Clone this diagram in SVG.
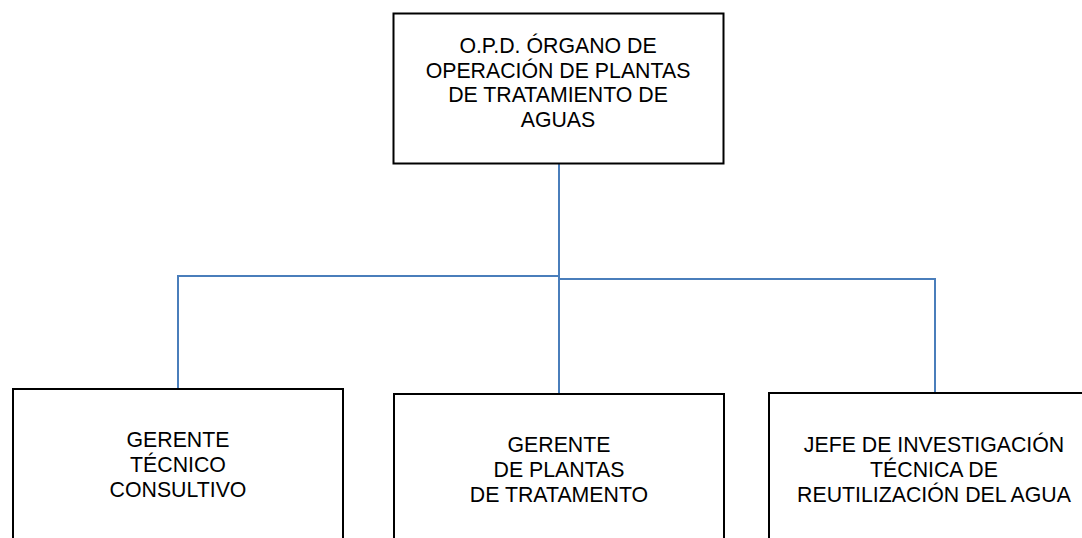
<svg xmlns="http://www.w3.org/2000/svg" width="1082" height="538" viewBox="0 0 1082 538">
<style>
.box{fill:#fff;stroke:#000;stroke-width:2}
.lbl{font-family:"Liberation Sans",Arial,sans-serif;font-size:21.3px;fill:#000;text-anchor:middle}
.conn{fill:none;stroke:#4a7ebb;stroke-width:2}
</style>
<rect width="1082" height="538" fill="#fff"/>
<g id="connectors">
<path class="conn" d="M559,164 V394"/>
<path class="conn" d="M559,276 H178 V389"/>
<path class="conn" d="M559,279 H935 V393"/>
</g>
<g id="n0">
<rect class="box" x="393.5" y="13.5" width="330" height="150"/>
<text class="lbl"><tspan x="558" y="53">O.P.D. ÓRGANO DE</tspan><tspan x="558" y="77.5">OPERACIÓN DE PLANTAS</tspan><tspan x="558" y="102">DE TRATAMIENTO DE</tspan><tspan x="558" y="126.5">AGUAS</tspan></text>
</g>
<g id="n1">
<rect class="box" x="13" y="389" width="330" height="170"/>
<text class="lbl"><tspan x="178" y="447">GERENTE</tspan><tspan x="178" y="472">TÉCNICO</tspan><tspan x="178" y="497">CONSULTIVO</tspan></text>
</g>
<g id="n2">
<rect class="box" x="394" y="394" width="330" height="170"/>
<text class="lbl"><tspan x="559" y="452">GERENTE</tspan><tspan x="559" y="477">DE PLANTAS</tspan><tspan x="559" y="502">DE TRATAMENTO</tspan></text>
</g>
<g id="n3">
<rect class="box" x="769" y="393" width="330" height="170"/>
<text class="lbl"><tspan x="934" y="452">JEFE DE INVESTIGACIÓN</tspan><tspan x="934" y="477">TÉCNICA  DE</tspan><tspan x="934" y="502">REUTILIZACIÓN DEL AGUA</tspan></text>
</g>
</svg>
